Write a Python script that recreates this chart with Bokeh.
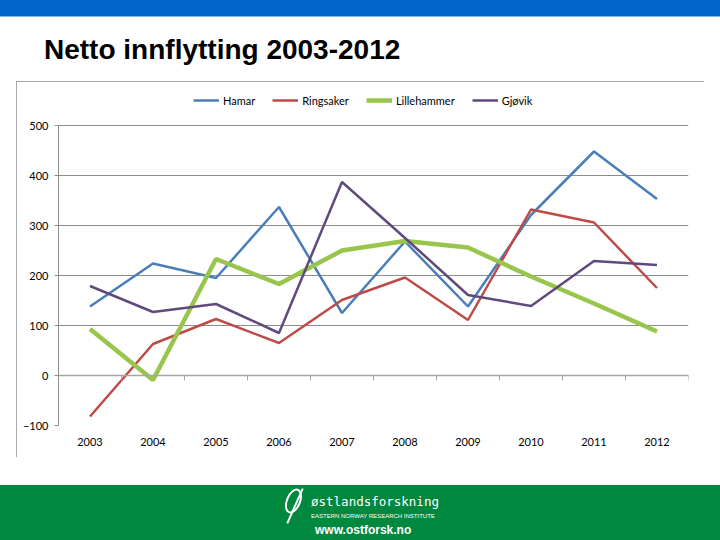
from bokeh.plotting import figure
from bokeh.models import (Range1d, LinearAxis, FixedTicker, Legend, LegendItem,
                          SingleIntervalTicker, Div, Spacer)
from bokeh.layouts import column, row
from bokeh.embed import file_html
from bokeh.resources import INLINE

# ---- data ----
years = ["2003", "2004", "2005", "2006", "2007", "2008", "2009", "2010", "2011", "2012"]
hamar = [138, 224, 195, 337, 125, 268, 138, 321, 448, 353]
ringsaker = [-82, 63, 113, 65, 151, 196, 111, 332, 306, 175]
lillehammer = [93, -9, 233, 183, 250, 269, 256, 198, 144, 88]
gjovik = [179, 127, 143, 85, 387, 275, 161, 139, 229, 221]
series_names = ["Hamar", "Ringsaker", "Lillehammer", "Gjøvik"]
series_values = [hamar, ringsaker, lillehammer, gjovik]
series_colors = ["#4A7EBB", "#BE4B48", "#98C54C", "#5F4A7B"]
series_widths = [2.5, 2.5, 4.5, 2.5]
y_min, y_max, y_step = -100, 500, 100
title_text = "Netto innflytting 2003-2012"

n = len(years)
xpos = [i + 0.5 for i in range(n)]          # category centres on a 0..n axis
bounds = [i + 1 for i in range(n)]          # category boundaries (tick marks)

PW, PH = 688, 376
p = figure(width=PW, height=PH, x_range=Range1d(0, n),
           y_range=Range1d(y_min, y_max + 80), output_backend="svg", toolbar_location=None,
           x_axis_type=None,
           min_border_left=42, min_border_right=16, min_border_top=4, min_border_bottom=32)
p.outline_line_color = None
p.background_fill_color = "white"
p.border_fill_color = "white"
p.styles = {"outline": "1px solid #8C8C8C", "outline-offset": "-1px"}

# grid
p.xgrid.grid_line_color = None
p.ygrid.grid_line_color = "#8C8C8C"
p.ygrid.grid_line_width = 1
p.ygrid.ticker = SingleIntervalTicker(interval=y_step)

# y axis
yax = p.yaxis[0]
yax.ticker = SingleIntervalTicker(interval=y_step)
yax.bounds = (y_min, y_max)
yax.axis_line_color = "#8C8C8C"
yax.major_tick_line_color = "#8C8C8C"
yax.major_tick_out = 4
yax.major_tick_in = 0
yax.minor_tick_line_color = None
yax.major_label_standoff = 6
yax.major_label_text_font = "Lato"
yax.major_label_text_font_size = "11px"
yax.major_label_text_color = "#000000"

# x category labels (nearest the frame)
xax = LinearAxis(ticker=FixedTicker(ticks=xpos),
                 major_label_overrides={x: y for x, y in zip(xpos, years)})
xax.axis_line_color = None
xax.major_tick_line_color = None
xax.major_tick_out = 0
xax.major_tick_in = 0
xax.minor_tick_line_color = None
xax.major_label_standoff = 12
xax.major_label_text_font = "Lato"
xax.major_label_text_font_size = "11px"
xax.major_label_text_color = "#000000"
p.add_layout(xax, "below")

# x axis line at zero with boundary ticks
bax = LinearAxis(ticker=FixedTicker(ticks=bounds), fixed_location=0)
bax.axis_line_color = "#A6A6A6"
bax.axis_line_width = 1.5
bax.major_tick_line_color = "#A6A6A6"
bax.major_tick_out = 5
bax.major_tick_in = 0
bax.minor_tick_line_color = None
bax.major_label_text_alpha = 0
bax.major_label_text_font_size = "1px"
bax.major_label_standoff = 0
p.add_layout(bax, "below")

# lines
items = []
for name, vals, col, lw in zip(series_names, series_values, series_colors, series_widths):
    r = p.line(xpos, vals, line_color=col, line_width=lw)
    items.append(LegendItem(label=name, renderers=[r]))

legend = Legend(items=items, orientation="horizontal", location=(135, 315),
                glyph_width=26, glyph_height=20, label_height=20, label_standoff=4, spacing=17,
                padding=0, margin=0, border_line_color=None, background_fill_alpha=0,
                label_text_font="Lato", label_text_font_size="11px", label_text_color="#000000")
p.add_layout(legend, "center")

top_html = (
    '<div style="position:relative;width:720px;height:81px;">'
    '<div style="position:absolute;left:0;top:0;width:720px;height:16px;background:#0066CC;"></div>'
    '<div style="position:absolute;left:0;top:16px;width:720px;height:1px;background:#7FB2E5;"></div>'
    '<div style="position:absolute;left:44px;top:36px;font-family:\'Liberation Sans\',Arial,sans-serif;'
    'font-weight:bold;font-size:28px;line-height:28px;color:#000;white-space:nowrap;">'
    + title_text + '</div></div>'
)
top_div = Div(text=top_html, width=720, height=81, margin=0)

bottom_html = (
    '<div style="position:relative;width:720px;height:83px;">'
    '<div style="position:absolute;left:0;top:28px;width:720px;height:55px;background:#00883E;"></div>'
    '<div style="position:absolute;left:286px;top:31px;width:15px;height:26px;border:2px solid #fff;'
    'border-radius:50%;transform:rotate(22deg);"></div>'
    '<div style="position:absolute;left:294px;top:30px;width:2px;height:38px;background:#fff;'
    'transform:rotate(24deg);"></div>'
    '<div style="position:absolute;left:311px;top:37px;font-family:\'DejaVu Sans Mono\',monospace;'
    'font-size:12.5px;line-height:16px;color:#fff;white-space:nowrap;">østlandsforskning</div>'
    '<div style="position:absolute;left:311px;top:56px;font-family:\'Liberation Sans\',Arial,sans-serif;'
    'font-size:6px;line-height:7px;color:#fff;white-space:nowrap;">EASTERN NORWAY RESEARCH INSTITUTE</div>'
    '<div style="position:absolute;left:315px;top:66px;font-family:\'Liberation Sans\',Arial,sans-serif;'
    'font-weight:bold;font-size:12px;line-height:14px;color:#fff;white-space:nowrap;">www.ostforsk.no</div>'
    '</div>'
)
bottom_div = Div(text=bottom_html, width=720, height=83, margin=0)

layout = column(top_div,
                row(Spacer(width=16, height=PH), p, Spacer(width=16, height=PH)),
                bottom_div, spacing=0)

open("out.html", "w").write(file_html(layout, INLINE))
